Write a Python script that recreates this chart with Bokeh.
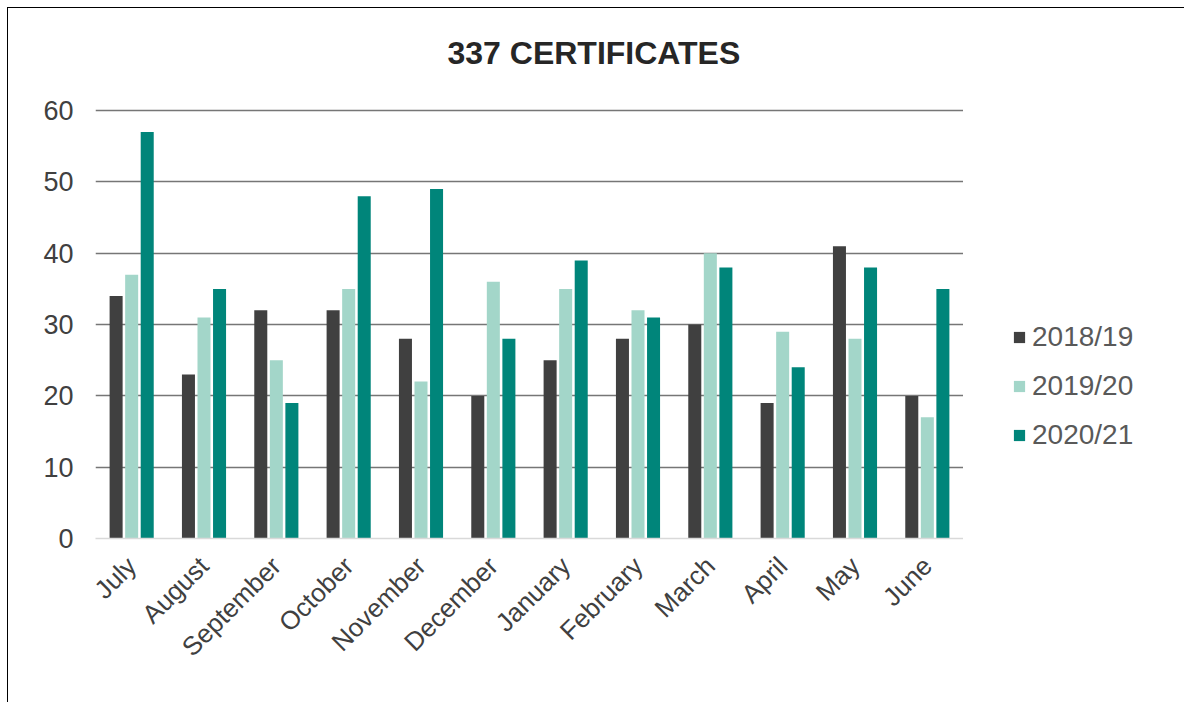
from math import pi
from bokeh.plotting import figure
from bokeh.layouts import row
from bokeh.models import ColumnDataSource, FactorRange, Range1d, FixedTicker, Legend, LegendItem
from bokeh.transform import dodge
from bokeh.embed import file_html
from bokeh.resources import INLINE

months = ["July", "August", "September", "October", "November", "December",
          "January", "February", "March", "April", "May", "June"]
series = ["2018/19", "2019/20", "2020/21"]
v2018 = [34, 23, 32, 32, 28, 20, 25, 28, 30, 19, 41, 20]
v2019 = [37, 31, 25, 35, 22, 36, 35, 32, 40, 29, 28, 17]
v2020 = [57, 35, 19, 48, 49, 28, 39, 31, 38, 24, 38, 35]
y_ticks = [0, 10, 20, 30, 40, 50, 60]
colors = ["#404040", "#a3d6c9", "#00857a"]

src = ColumnDataSource(dict(month=months, s0=v2018, s1=v2019, s2=v2020))

H = 705
p = figure(width=956, height=H, x_range=FactorRange(*months), y_range=Range1d(0, 60.3),
           output_backend="svg", toolbar_location=None,
           min_border_left=88, min_border_right=0, min_border_top=111, min_border_bottom=164)
p.border_fill_alpha = 0

offsets = [-0.215, 0.0, 0.215]
for i, key in enumerate(["s0", "s1", "s2"]):
    p.vbar(x=dodge("month", offsets[i], range=p.x_range), top=key, width=0.18,
           source=src, fill_color=colors[i], line_color=None)

p.title.text = "337 CERTIFICATES"
p.title.text_font = "Liberation Sans"
p.title.text_font_size = "32px"
p.title.text_font_style = "bold"
p.title.text_color = "#262626"
p.title.align = "left"
p.title.vertical_align = "top"
p.title.offset = 352
p.title.standoff = 72

p.outline_line_color = None
p.xgrid.grid_line_color = None
p.ygrid.ticker = FixedTicker(ticks=y_ticks[1:])
p.ygrid.grid_line_color = "#767676"
p.ygrid.grid_line_width = 1.6

p.yaxis.ticker = FixedTicker(ticks=y_ticks)
p.yaxis.axis_line_color = None
p.yaxis.major_tick_line_color = None
p.yaxis.minor_tick_line_color = None
p.yaxis.major_label_text_font = "Liberation Sans"
p.yaxis.major_label_text_font_size = "27px"
p.yaxis.major_label_text_color = "#404040"
p.yaxis.major_label_standoff = 16

p.xaxis.axis_line_color = "#d9d9d9"
p.xaxis.axis_line_width = 1.5
p.xaxis.major_tick_line_color = None
p.xaxis.minor_tick_line_color = None
p.xaxis.major_label_orientation = pi / 4
p.xaxis.major_label_text_font = "Liberation Sans"
p.xaxis.major_label_text_font_size = "26px"
p.xaxis.major_label_text_color = "#404040"
p.xaxis.major_label_standoff = 17

# legend panel (frame aligned with the main plot's frame by the row layout)
lf = figure(width=221, height=H, x_range=Range1d(0, 1), y_range=Range1d(0, 1),
            output_backend="svg", toolbar_location=None, x_axis_type=None, y_axis_type=None,
            min_border_left=0, min_border_right=0, min_border_top=0, min_border_bottom=0)
lf.outline_line_color = None
lf.grid.grid_line_color = None
lf.border_fill_alpha = 0
# zero-size placeholder glyphs: they only carry the legend swatch styles
dummies = [lf.vbar(x=[0], top=[0], bottom=[0], width=0, fill_color=colors[i], line_color=None)
           for i in range(3)]

legend = Legend(items=[LegendItem(label=series[i], renderers=[dummies[i]]) for i in range(3)],
                location=(49, 87), orientation="vertical")
legend.border_line_color = None
legend.background_fill_alpha = 0
legend.padding = 0
legend.margin = 0
legend.glyph_width = 14
legend.glyph_height = 14
legend.label_standoff = 6
legend.spacing = 17
legend.label_text_font = "Liberation Sans"
legend.label_text_font_size = "28px"
legend.label_text_color = "#595959"
lf.add_layout(legend, "center")

frame_lines = ("linear-gradient(#000000, #000000) 0px 10px / 100% 1px no-repeat, "
               "linear-gradient(#000000, #000000) 0px 10px / 1px 100% no-repeat")
layout = row(p, lf, styles={"margin-left": "7px", "margin-top": "-3px",
                            "background": frame_lines})

open("out.html", "w").write(file_html(layout, INLINE))
